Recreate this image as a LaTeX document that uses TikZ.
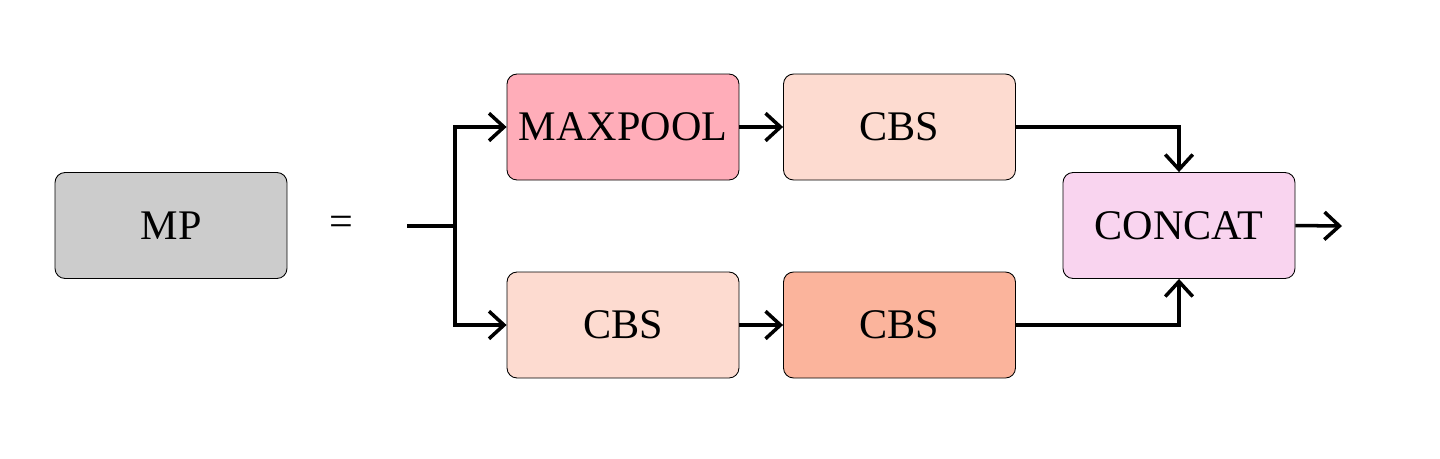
\documentclass[tikz,border=0pt]{standalone}
\usepackage{fontspec}
\setmainfont{Liberation Serif}
\usetikzlibrary{arrows.meta}
\definecolor{mpgray}{HTML}{CCCCCC}
\definecolor{maxpink}{HTML}{FFADB9}
\definecolor{cbslight}{HTML}{FDDBD0}
\definecolor{cbsdark}{HTML}{FBB49C}
\definecolor{concatpink}{HTML}{F9D4EF}
\tikzset{
  blk/.style={draw=black, line width=0.5pt, rounded corners=0.2cm,
    minimum width=4.64cm, minimum height=2.12cm, inner sep=0pt,
    font=\fontsize{24}{28}\selectfont},
  conn/.style={line width=2pt, -{Straight Barb[length=0.3cm,width=0.55cm,line width=2pt]}},
  plain/.style={line width=2pt}
}
\begin{document}
\begin{tikzpicture}[x=0.02cm,y=-0.02cm]
\useasboundingbox (0,0) rectangle (1440,458);
\node[blk, fill=mpgray] (mp) at (171,225.5) {MP};
\node[font=\fontsize{24}{28}\selectfont] (eq) at (341,225.5) {=};
\node[blk, fill=maxpink] (maxp) at (623,127) {MAXPOOL};
\node[blk, fill=cbslight] (cbs1) at (899.5,127) {CBS};
\node[blk, fill=cbslight] (cbs2) at (623,325) {CBS};
\node[blk, fill=cbsdark] (cbs3) at (899.5,325) {CBS};
\node[blk, fill=concatpink] (cat) at (1179,225.5) {CONCAT};
\coordinate (in) at (407,226);
\coordinate (split) at (455,226);
\coordinate (out) at (1342,226);
\draw[plain] (in) -- (split);
\draw[conn] (split) |- (maxp.west);
\draw[conn] (split) |- (cbs2.west);
\draw[conn] (maxp) -- (cbs1);
\draw[conn] (cbs2) -- (cbs3);
\draw[conn] (cbs1.east) -| (cat.north);
\draw[conn] (cbs3.east) -| (cat.south);
\draw[conn] (cat.east) -- (out);
\end{tikzpicture}
\end{document}
